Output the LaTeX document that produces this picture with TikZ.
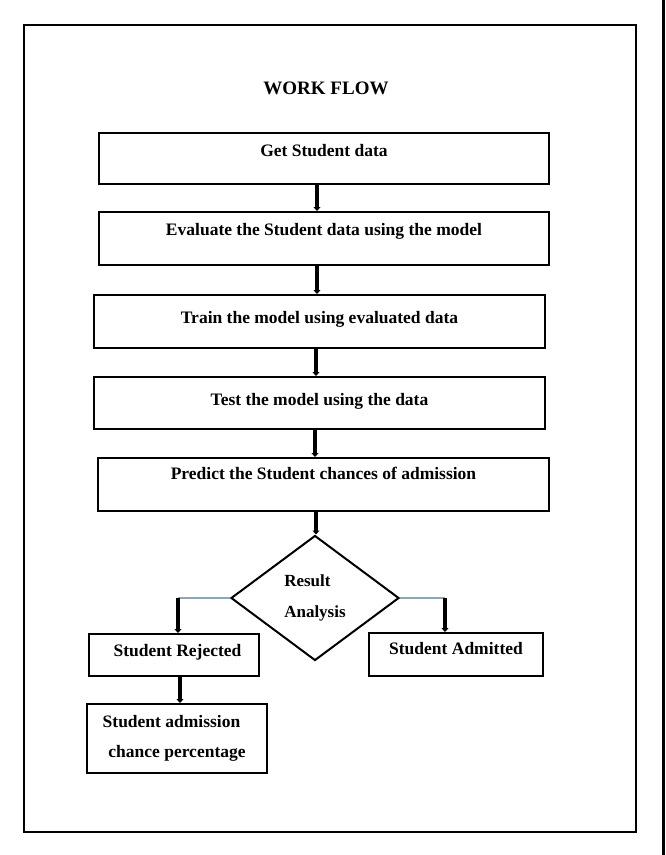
\documentclass[tikz,border=0pt]{standalone}
\usepackage{fontspec}
\setmainfont{Liberation Serif}
\usetikzlibrary{shapes.geometric,arrows.meta,calc}
\definecolor{thinblue}{RGB}{140,165,185}
\begin{document}
\begin{tikzpicture}[x=1pt,y=-1pt,
  every node/.style={font=\fontsize{17.5}{20}\selectfont\bfseries},
  flowbox/.style={draw=black,line width=2pt,rectangle,inner sep=0pt},
  thickarrow/.style={line width=3.4pt,-{Triangle[width=7pt,length=4pt]}},
  thinline/.style={draw=thinblue,line width=1.1pt}]
\useasboundingbox (0,0) rectangle (665,855);
\fill[white] (0,0) rectangle (665,855);
\fill[black] (662,0) rectangle (665,855);
\draw[line width=1.4pt] (24,25) rectangle (636,832);
\node (title) at (326,88) {\fontsize{19}{22}\selectfont WORK FLOW};
% main boxes: text height = top->baseline, text depth = baseline->bottom
\node[flowbox,minimum width=450pt,text height=23pt,text depth=28pt,anchor=north west] (b1) at (98,132) {Get Student data};
\node[flowbox,minimum width=450pt,text height=23pt,text depth=30pt,anchor=north west] (b2) at (98,211) {Evaluate the Student data using the model};
\node[flowbox,minimum width=451pt,text height=28pt,text depth=25pt,anchor=north west] (b3) at (93,294) {Train the model using evaluated data};
\node[flowbox,minimum width=451pt,text height=28pt,text depth=24pt,anchor=north west] (b4) at (93,376) {Test the model using the data};
\node[flowbox,minimum width=451pt,text height=21pt,text depth=32pt,anchor=north west] (b5) at (97,457) {Predict the Student chances of admission};
\node[draw=black,line width=2pt,diamond,minimum width=168pt,minimum height=125pt,inner sep=0pt,align=left,font=\fontsize{17}{31}\selectfont\bfseries] (d) at (315,598) {Result\\Analysis};
\node[flowbox,minimum width=170pt,text height=22pt,text depth=20pt,anchor=north west] (rej) at (88,633) {\hspace*{7pt}Student Rejected};
\node[flowbox,minimum width=174pt,text height=21pt,text depth=22pt,anchor=north west] (adm) at (368,632) {Student Admitted};
\node[flowbox,minimum width=180pt,minimum height=69pt,align=center,anchor=north west,font=\fontsize{17.5}{30}\selectfont\bfseries] (pct) at (86,703) {\hspace*{-11pt}Student admission\\chance percentage};
\coordinate (ax) at (317,0);
\coordinate (ax5) at (316,0);
\coordinate (lx) at (178,0);
\coordinate (rx) at (445,0);
\coordinate (px) at (180,0);
\draw[thickarrow] (b1.south -| ax) -- (b2.north -| ax);
\draw[thickarrow] (b2.south -| ax) -- (b3.north -| ax);
\draw[thickarrow] ([xshift=-1pt]b3.south -| ax) -- ([xshift=-1pt]b4.north -| ax);
\draw[thickarrow] ([xshift=-2pt]b4.south -| ax) -- ([xshift=-2pt]b5.north -| ax);
\draw[thickarrow] (b5.south -| ax5) -- (d.north -| ax5);
\draw[thinline] (d.west) -- (d.west -| lx);
\draw[thickarrow] (d.west -| lx) -- (rej.north -| lx);
\draw[thinline] (d.east) -- (d.east -| rx);
\draw[thickarrow] (d.east -| rx) -- (adm.north -| rx);
\draw[thickarrow] (rej.south -| px) -- (pct.north -| px);
\end{tikzpicture}
\end{document}
